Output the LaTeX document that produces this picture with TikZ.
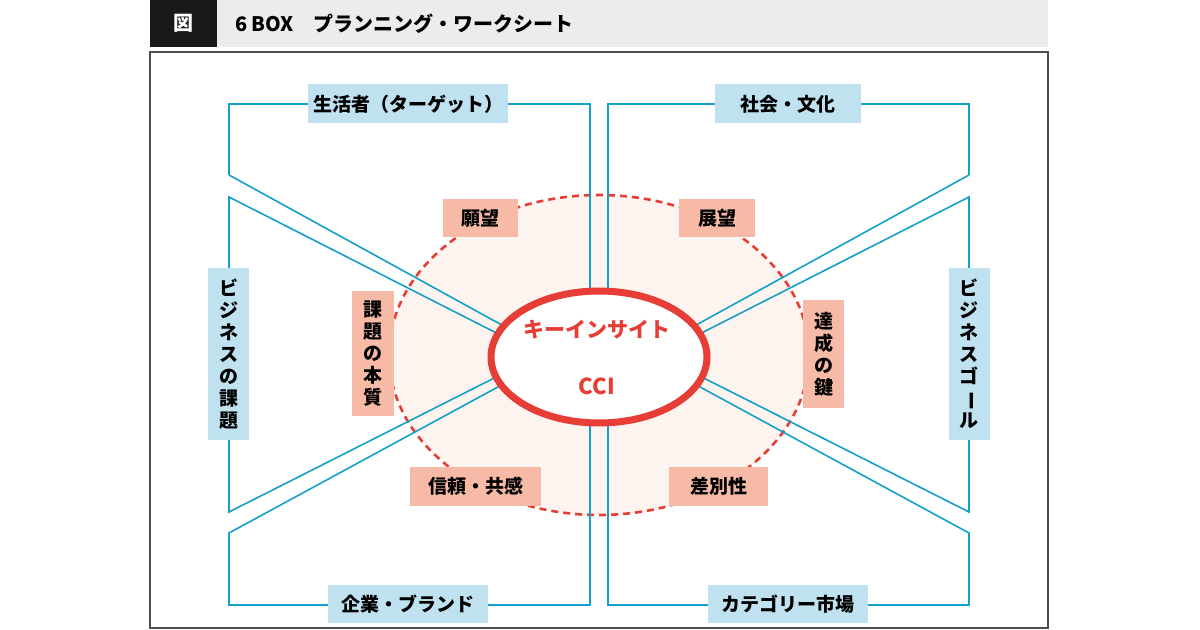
\documentclass[tikz,border=0pt]{standalone}
\usepackage{fontspec}
\usepackage{graphicx}
\setmainfont{Noto Sans CJK JP}
\usetikzlibrary{shadows,shapes.geometric}
\definecolor{lineblue}{RGB}{20,160,200}
\definecolor{boxblue}{RGB}{192,226,240}
\definecolor{boxsalmon}{RGB}{247,186,166}
\definecolor{keyred}{RGB}{230,62,55}
\definecolor{softpink}{RGB}{253,243,239}
\definecolor{headgray}{RGB}{236,236,236}
\newcommand{\vbar}{\rotatebox[origin=c]{-90}{ー}}
\tikzset{
  blue box/.style={fill=boxblue, inner sep=0pt, font=\fontsize{9.5}{11}\selectfont\bfseries},
  salmon box/.style={fill=boxsalmon, inner sep=0pt, font=\fontsize{9.5}{11}\selectfont\bfseries},
  frame line/.style={lineblue, line width=0.8pt}
}
\begin{document}
\begin{tikzpicture}[x=0.5pt,y=-0.5pt]
  \useasboundingbox (0,0) rectangle (1200,630);
  % header
  \fill[headgray] (150,0) rectangle (1048,47);
  \node[fill=black!90, text=white, minimum width=33.5pt, minimum height=23.5pt, inner sep=0pt,
        font=\fontsize{10}{11}\selectfont\bfseries] (mark) at (183.5,23.5) {図};
  \node[anchor=west, font=\fontsize{10}{12}\selectfont\bfseries] (title) at (228,23.5)
       {6 BOX\quad プランニング・ワークシート};
  \draw[black!70, line width=0.6pt] (150,52) rectangle (1048,628);

  % dashed zone
  \filldraw[fill=softpink, draw=keyred, dash pattern=on 3.5pt off 2.5pt, line width=1.3pt]
    (599,355) ellipse (105pt and 80pt);

  % left half
  \draw[frame line] (229,175) -- (229,104) -- (590,104) -- (590,300);
  \draw[frame line] (229,175) -- (520,335);
  \draw[frame line] (520,345) -- (229,197) -- (229,512) -- (520,365);
  \draw[frame line] (520,375) -- (229,533) -- (229,605) -- (590,605) -- (590,410);
  % right half
  \draw[frame line] (969,175) -- (969,104) -- (608,104) -- (608,300);
  \draw[frame line] (969,175) -- (678,335);
  \draw[frame line] (678,345) -- (969,197) -- (969,512) -- (678,365);
  \draw[frame line] (678,375) -- (969,533) -- (969,605) -- (608,605) -- (608,410);

  % core
  \node[ellipse, draw=keyred, fill=white, line width=3.5pt, minimum width=108pt, minimum height=66pt,
        drop shadow={opacity=0.25, shadow xshift=1pt, shadow yshift=-1.5pt}] (core) at (599,357) {};
  \node[text=keyred, font=\fontsize{10.5}{12}\selectfont\bfseries] (insight) at (597,330) {キーインサイト};
  \node[text=keyred, font=\fontsize{11}{12}\selectfont\bfseries] (cci) at (597,386) {CCI};

  % six boxes
  \node[blue box, minimum width=100pt, minimum height=19.5pt] (target) at (408,104) {生活者（ターゲット）};
  \node[blue box, minimum width=73pt, minimum height=19.5pt] (society) at (788,104) {社会・文化};
  \node[blue box, minimum width=80pt, minimum height=19pt] (brand) at (408,604) {企業・ブランド};
  \node[blue box, minimum width=80pt, minimum height=19pt] (market) at (788,604) {カテゴリー市場};
  \node[blue box, minimum width=20.5pt, minimum height=86pt, align=center] (issue) at (228.5,354)
       {ビ\\ジ\\ネ\\ス\\の\\課\\題};
  \node[blue box, minimum width=20.5pt, minimum height=86pt, align=center] (goal) at (969,354)
       {ビ\\ジ\\ネ\\ス\\ゴ\\\vbar\\ル};

  % inner keys
  \node[salmon box, minimum width=37.5pt, minimum height=19pt] (wish) at (480.5,218) {願望};
  \node[salmon box, minimum width=38pt, minimum height=19pt] (vision) at (717,218) {展望};
  \node[salmon box, minimum width=21pt, minimum height=62.5pt, align=center] (essence) at (373,353.5)
       {課\\題\\の\\本\\質};
  \node[salmon box, minimum width=20.5pt, minimum height=54pt, align=center] (key) at (823.5,354)
       {達\\成\\の\\鍵};
  \node[salmon box, minimum width=65.5pt, minimum height=19.5pt] (trust) at (475.5,486.5) {信頼・共感};
  \node[salmon box, minimum width=49.5pt, minimum height=19.5pt] (diff) at (718.5,486.5) {差別性};
\end{tikzpicture}
\end{document}
